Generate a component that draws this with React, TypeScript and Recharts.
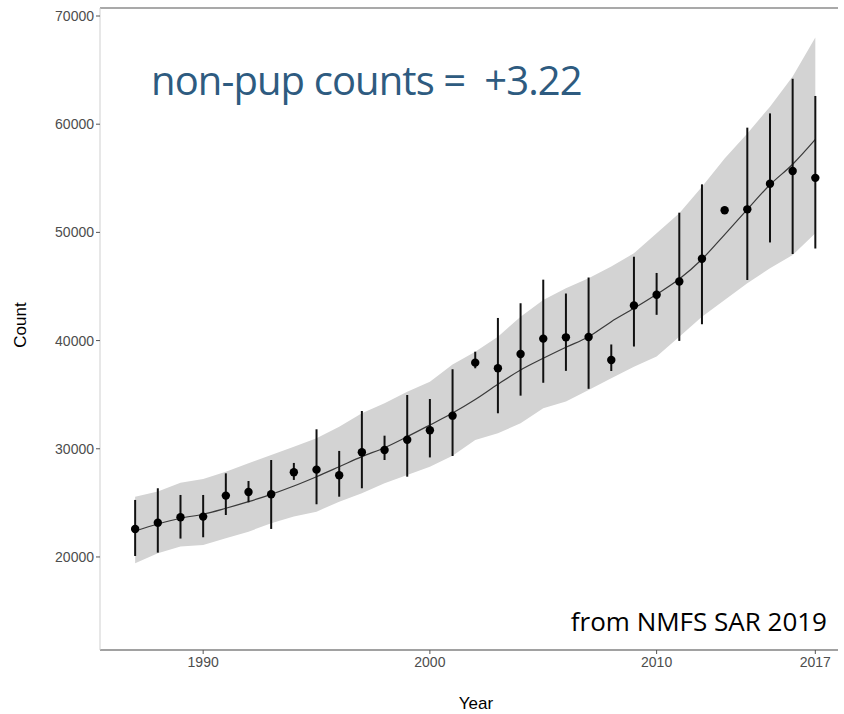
import React from 'react';
import { ComposedChart, Area, Line, XAxis, YAxis, ErrorBar, ReferenceLine } from 'recharts';

const years = [1987, 1988, 1989, 1990, 1991, 1992, 1993, 1994, 1995, 1996, 1997, 1998, 1999, 2000, 2001, 2002, 2003, 2004, 2005, 2006, 2007, 2008, 2009, 2010, 2011, 2012, 2013, 2014, 2015, 2016, 2017];
const counts = [22590, 23170, 23670, 23730, 25670, 26010, 25790, 27830, 28070, 27550, 29680, 29890, 30840, 31710, 33060, 37960, 37440, 38760, 40180, 40300, 40330, 38210, 43250, 44230, 45460, 47570, 52050, 52130, 54500, 55680, 55040];
const errLow = [20090, 20400, 21700, 21820, 23880, 25050, 22590, 27120, 24870, 25570, 26350, 28960, 27420, 29200, 29330, 37440, 33280, 34910, 36100, 37200, 35540, 37190, 39450, 42380, 39970, 41510, 51950, 45600, 49070, 48000, 48510];
const errHigh = [25270, 26350, 25730, 25730, 27730, 27020, 28960, 28690, 31800, 29800, 33490, 31210, 34970, 34600, 37350, 38970, 42090, 43450, 45630, 44350, 45830, 39640, 47750, 46250, 51820, 54440, 52150, 59680, 61000, 64200, 62610];
const fit = [22400, 23050, 23580, 23950, 24500, 25110, 25790, 26560, 27420, 28340, 29270, 30100, 31120, 32200, 33300, 34550, 35960, 37280, 38360, 39380, 40360, 41750, 42980, 44280, 45690, 47520, 49800, 52130, 54400, 56300, 58600];
const bandLow = [19420, 20340, 20960, 21110, 21730, 22340, 23110, 23730, 24190, 25110, 25880, 26810, 27580, 28340, 29350, 30810, 31430, 32360, 33740, 34360, 35430, 36510, 37590, 38520, 40360, 42210, 43750, 45290, 46680, 47910, 49920];
const bandHigh = [25570, 26040, 26870, 27210, 27880, 28660, 29430, 30190, 30970, 32040, 33280, 34200, 35280, 36200, 37800, 38970, 40360, 42210, 43750, 44830, 45760, 46840, 48070, 49920, 51770, 54220, 56840, 59150, 61620, 64400, 68020];
const xTicks = [1990, 2000, 2010, 2017];
const yTicks = [20000, 30000, 40000, 50000, 60000, 70000];

const titleText = 'non-pup counts =  +3.22';
const sourceText = 'from NMFS SAR 2019';
const xLabel = 'Year';
const yLabel = 'Count';

const data = years.map((y, i) => ({
  year: y,
  count: counts[i],
  err: [counts[i] - errLow[i], errHigh[i] - counts[i]],
  fit: fit[i],
  band: [bandLow[i], bandHigh[i]],
}));

const W = 844;
const H = 714;

export default function App() {
  return (
    <div style={{ position: 'absolute', left: 0, top: 0, width: W, height: H, background: '#fff' }}>
      <ComposedChart width={W} height={H} data={data} margin={{ top: 8, right: 6, bottom: 0, left: 0 }}>
        <XAxis
          dataKey="year"
          type="number"
          domain={[1985.45, 2018.0]}
          ticks={xTicks}
          allowDataOverflow
          height={64}
          tickSize={4}
          tickMargin={3}
          axisLine={{ stroke: '#444', strokeWidth: 1.2 }}
          tickLine={{ stroke: '#555' }}
          tick={{ fill: '#4D4D4D', fontSize: 14, fontFamily: 'Liberation Sans, Arial, sans-serif' }}
        />
        <YAxis
          type="number"
          domain={[11400, 70740]}
          ticks={yTicks}
          allowDataOverflow
          width={100}
          tickSize={4}
          tickMargin={2}
          axisLine={{ stroke: '#cfcfcf', strokeWidth: 1 }}
          tickLine={{ stroke: '#555' }}
          tick={{ fill: '#4D4D4D', fontSize: 14, fontFamily: 'Liberation Sans, Arial, sans-serif' }}
        />
        <ReferenceLine y={70740} stroke="#555" strokeWidth={1.2} />
        <Area dataKey="band" type="linear" fill="#D3D3D3" fillOpacity={1} stroke="none" isAnimationActive={false} />
        <Line dataKey="fit" type="monotone" stroke="#3a3a3a" strokeWidth={1.2} dot={false} isAnimationActive={false} />
        <Line
          dataKey="count"
          stroke="none"
          dot={{ r: 4.2, fill: '#000', stroke: 'none' }}
          activeDot={false}
          isAnimationActive={false}
        >
          <ErrorBar dataKey="err" width={0} stroke="#111" strokeWidth={2} direction="y" />
        </Line>
      </ComposedChart>
      <svg width={W} height={H} style={{ position: 'absolute', left: 0, top: 0, pointerEvents: 'none' }}>
        <text x={151} y={95} fontFamily="Open Sans" fontSize={40} letterSpacing={-0.9} fill="#2E5B80" style={{ whiteSpace: 'pre' }}>
          {titleText}
        </text>
        <text x={827} y={631} textAnchor="end" fontFamily="Open Sans" fontSize={26} fill="#000">
          {sourceText}
        </text>
        <text x={476} y={709} textAnchor="middle" fontFamily="Liberation Sans, Arial, sans-serif" fontSize={17} fill="#000">
          {xLabel}
        </text>
        <text
          x={26}
          y={325}
          textAnchor="middle"
          transform="rotate(-90 26 325)"
          fontFamily="Liberation Sans, Arial, sans-serif"
          fontSize={17}
          fill="#000"
        >
          {yLabel}
        </text>
      </svg>
    </div>
  );
}
